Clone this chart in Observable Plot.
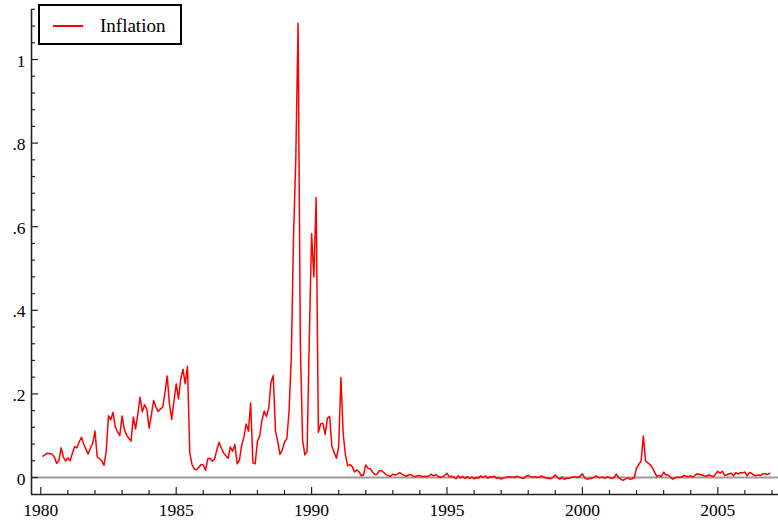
<!DOCTYPE html>
<html><head><meta charset="utf-8">
<script src="https://cdn.jsdelivr.net/npm/d3@7"></script>
<script src="https://cdn.jsdelivr.net/npm/@observablehq/plot@0.6"></script>
<style>
body{margin:0;background:#fff;}
#wrap{position:relative;width:778px;height:521px;overflow:hidden;}
#legend{position:absolute;left:38px;top:4px;width:144px;height:41px;box-sizing:border-box;border:2px solid #000;background:#fff;}
#legsw{position:absolute;left:53px;top:25px;width:30px;height:2px;background:#ff0000;}
#legtx{position:absolute;left:100px;top:16px;line-height:19px;font-family:"Liberation Serif","Times New Roman",serif;font-size:19px;color:#000;white-space:nowrap;}
</style></head><body>
<div id="wrap"></div>
<script>
// Monthly inflation (log change of CPI), first value = Feb 1980, last = Dec 2006
const firstYear = 1980;
const firstMonth = 2;
const seriesName = "Inflation";
const inflation = [
  /*1980*/ 0.051, 0.055, 0.058, 0.057, 0.056, 0.049, 0.034, 0.040, 0.071, 0.049, 0.039,
  /*1981*/ 0.047, 0.040, 0.058, 0.074, 0.071, 0.085, 0.096, 0.080, 0.068, 0.056, 0.071, 0.082,
  /*1982*/ 0.111, 0.049, 0.045, 0.040, 0.029, 0.063, 0.148, 0.138, 0.156, 0.121, 0.109, 0.100,
  /*1983*/ 0.147, 0.116, 0.102, 0.094, 0.087, 0.145, 0.116, 0.152, 0.192, 0.157, 0.174, 0.163,
  /*1984*/ 0.118, 0.150, 0.184, 0.169, 0.158, 0.164, 0.168, 0.202, 0.243, 0.177, 0.139, 0.183,
  /*1985*/ 0.224, 0.188, 0.235, 0.259, 0.224, 0.266, 0.060, 0.031, 0.020, 0.019, 0.024, 0.031,
  /*1986*/ 0.030, 0.017, 0.045, 0.046, 0.039, 0.044, 0.066, 0.084, 0.070, 0.059, 0.052, 0.046,
  /*1987*/ 0.073, 0.063, 0.079, 0.033, 0.041, 0.077, 0.096, 0.128, 0.111, 0.178, 0.035, 0.033,
  /*1988*/ 0.087, 0.099, 0.137, 0.159, 0.146, 0.166, 0.228, 0.244, 0.111, 0.086, 0.055, 0.066,
  /*1989*/ 0.085, 0.092, 0.157, 0.288, 0.579, 0.763, 1.087, 0.321, 0.090, 0.054, 0.063, 0.337,
  /*1990*/ 0.583, 0.480, 0.670, 0.108, 0.128, 0.130, 0.103, 0.142, 0.146, 0.074, 0.060, 0.046,
  /*1991*/ 0.074, 0.239, 0.104, 0.054, 0.028, 0.031, 0.026, 0.013, 0.018, 0.014, 0.004, 0.006,
  /*1992*/ 0.030, 0.022, 0.021, 0.013, 0.007, 0.008, 0.017, 0.016, 0.012, 0.007, 0.004, 0.003,
  /*1993*/ 0.008, 0.006, 0.008, 0.012, 0.008, 0.005, 0.003, 0.006, 0.007, 0.003, 0.002, 0.004,
  /*1994*/ 0.005, 0.002, 0.003, 0.002, 0.004, 0.008, 0.004, 0.007, 0.003, 0.000, 0.002, 0.005,
  /*1995*/ 0.010, 0.002, 0.003, 0.001, -0.003, 0.004, -0.001, 0.003, -0.002, 0.002, -0.002, 0.001,
  /*1996*/ -0.003, 0.000, -0.001, 0.004, 0.000, 0.004, -0.002, 0.002, 0.001, 0.003, -0.002, 0.000,
  /*1997*/ -0.004, -0.001, 0.000, 0.002, 0.001, 0.002, 0.000, 0.003, 0.001, -0.001, -0.002, 0.003,
  /*1998*/ 0.005, 0.002, 0.001, 0.002, 0.000, 0.001, 0.004, 0.000, -0.001, -0.002, -0.003, 0.001,
  /*1999*/ 0.006, 0.000, -0.004, 0.001, -0.004, -0.002, -0.002, 0.000, 0.001, 0.002, 0.000, 0.003,
  /*2000*/ 0.009, -0.001, -0.004, -0.003, -0.002, 0.000, 0.004, 0.000, 0.000, 0.001, -0.002, 0.002,
  /*2001*/ 0.000, -0.002, 0.000, 0.008, 0.001, -0.004, -0.007, -0.004, -0.001, -0.004, -0.003, 0.000,
  /*2002*/ 0.023, 0.031, 0.039, 0.099, 0.039, 0.035, 0.031, 0.023, 0.013, 0.002, 0.005, 0.002,
  /*2003*/ 0.013, 0.006, 0.006, 0.001, -0.004, -0.001, 0.001, 0.000, 0.001, 0.005, 0.003, 0.002,
  /*2004*/ 0.004, 0.001, 0.006, 0.009, 0.007, 0.006, 0.004, 0.003, 0.006, 0.004, 0.002, 0.008,
  /*2005*/ 0.015, 0.010, 0.015, 0.005, 0.006, 0.009, 0.010, 0.004, 0.012, 0.008, 0.012, 0.011,
  /*2006*/ 0.013, 0.004, 0.012, 0.010, 0.005, 0.005, 0.006, 0.005, 0.009, 0.009, 0.007, 0.010
];
const xTickValues = [1980, 1985, 1990, 1995, 2000, 2005];
const yTickValues = [0, 0.2, 0.4, 0.6, 0.8, 1];
const yTickLabels = ["0", ".2", ".4", ".6", ".8", "1"];

const data = inflation.map((v, k) => ({t: firstYear + (firstMonth - 1 + k) / 12, v}));

// layout
const W = 778, H = 521, mL = 31, mR = 0, mT = 9, mB = 27;
const pxPerYear = 27.08, pxPerUnit = 418;
const xDomain = [1980 - 9.3 / pxPerYear, 1980 + (W - 40.3) / pxPerYear];
const yDomain = [-17 / pxPerUnit, 468 / pxPerUnit];

const yearTicks = d3.range(1980, 2008);
const yMinor = d3.range(0, 29).map(k => k * 0.04);
const isMajorY = d => Math.abs(d / 0.2 - Math.round(d / 0.2)) < 1e-6;
const axisColor = "#222";

const chart = Plot.plot({
  width: W, height: H,
  marginLeft: mL, marginRight: mR, marginTop: mT, marginBottom: mB,
  style: {fontFamily: '"Liberation Serif", "Times New Roman", serif', fontSize: "17.5px", color: "#000", background: "#fff"},
  x: {domain: xDomain, label: null},
  y: {domain: yDomain, label: null},
  marks: [
    Plot.ruleY([0], {stroke: "#9a9a9a", strokeWidth: 2}),
    Plot.line(data, {x: "t", y: "v", stroke: "#ff0000", strokeWidth: 1.5}),
    Plot.ruleX([xDomain[0]], {stroke: axisColor, strokeWidth: 1.6}),
    Plot.ruleY([yDomain[0]], {stroke: axisColor, strokeWidth: 1.6}),
    Plot.ruleX(yearTicks, {x: d => d, y1: yDomain[0], y2: d => yDomain[0] + (d % 5 === 0 ? 7 : 4) / pxPerUnit, stroke: axisColor, strokeWidth: 1.2}),
    Plot.ruleY(yMinor, {y: d => d, x1: xDomain[0], x2: d => xDomain[0] + (isMajorY(d) ? 7 : 4) / pxPerYear, stroke: axisColor, strokeWidth: 1.2}),
    Plot.axisX({ticks: xTickValues, tickSize: 0, tickPadding: 9, label: null, tickFormat: d => String(d)}),
    Plot.axisY({ticks: yTickValues, tickSize: 0, tickPadding: 6, dy: 1.5, label: null, tickFormat: d => yTickLabels[yTickValues.indexOf(d)]})
  ]
});

const wrap = document.getElementById("wrap");
wrap.appendChild(chart);
const legend = document.createElement("div"); legend.id = "legend"; wrap.appendChild(legend);
const sw = document.createElement("div"); sw.id = "legsw"; wrap.appendChild(sw);
const tx = document.createElement("div"); tx.id = "legtx"; tx.textContent = seriesName; wrap.appendChild(tx);
</script>
</body></html>
